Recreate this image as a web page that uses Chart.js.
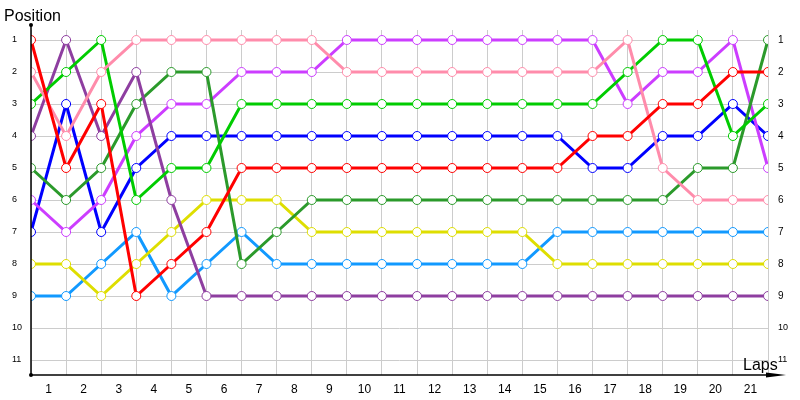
<!DOCTYPE html>
<html><head><meta charset="utf-8">
<script src="https://cdn.jsdelivr.net/npm/chart.js@4/dist/chart.umd.min.js"></script>
<style>html,body{margin:0;padding:0;background:#fff}canvas{display:block}</style>
</head><body>
<canvas id="c" width="800" height="400"></canvas>
<script>
// ---- data ----
const laps = [0,1,2,3,4,5,6,7,8,9,10,11,12,13,14,15,16,17,18,19,20,21];
const lapLabels = ['1','2','3','4','5','6','7','8','9','10','11','12','13','14','15','16','17','18','19','20','21'];
const positionTicks = [1,2,3,4,5,6,7,8,9,10,11];

const redDriver      = [1,5,3,9,8,7,5,5,5,5,5,5,5,5,5,5,4,4,3,3,2,2];
const pinkDriver     = [2,4,2,1,1,1,1,1,1,2,2,2,2,2,2,2,2,1,5,6,6,6];
const greenDriver    = [3,2,1,6,5,5,3,3,3,3,3,3,3,3,3,3,3,2,1,1,4,3];
const purpleDriver   = [4,1,4,2,6,9,9,9,9,9,9,9,9,9,9,9,9,9,9,9,9,9];
const darkGreenDriver= [5,6,5,3,2,2,8,7,6,6,6,6,6,6,6,6,6,6,6,5,5,1];
const magentaDriver  = [6,7,6,4,3,3,2,2,2,1,1,1,1,1,1,1,1,3,2,2,1,5];
const blueDriver     = [7,3,7,5,4,4,4,4,4,4,4,4,4,4,4,4,5,5,4,4,3,4];
const yellowDriver   = [8,8,9,8,7,6,6,6,7,7,7,7,7,7,7,8,8,8,8,8,8,8];
const skyDriver      = [9,9,8,7,9,8,7,8,8,8,8,8,8,8,8,7,7,7,7,7,7,7];

const seriesList = [
  ['Red', redDriver, '#ff0000'],
  ['Pink', pinkDriver, '#ff8cab'],
  ['Green', greenDriver, '#00cc00'],
  ['Purple', purpleDriver, '#8e3ea0'],
  ['Dark green', darkGreenDriver, '#2b9a2b'],
  ['Magenta', magentaDriver, '#cc3dff'],
  ['Blue', blueDriver, '#0000ff'],
  ['Yellow', yellowDriver, '#dede00'],
  ['Sky', skyDriver, '#1199ff']
];

const datasets = seriesList.map(([name, vals, col]) => ({
  label: name,
  data: vals.map((v, i) => ({x: laps[i], y: v})),
  borderColor: col,
  backgroundColor: col,
  borderWidth: 3,
  pointRadius: 4.5,
  pointBorderWidth: 1,
  pointBackgroundColor: '#ffffff',
  pointBorderColor: col,
  tension: 0,
  fill: false,
  xAxisID: 'x',
  yAxisID: 'y'
}));

const decor = {
  id: 'decor',
  afterDraw(chart) {
    const ctx = chart.ctx;
    const xs = chart.scales.x, ys = chart.scales.y;
    const x0 = xs.getPixelForValue(0);
    const yb = ys.bottom;
    ctx.save();
    ctx.strokeStyle = '#000';
    ctx.fillStyle = '#000';
    // y axis
    ctx.lineWidth = 1.5;
    ctx.beginPath();
    ctx.moveTo(x0, 25); ctx.lineTo(x0, yb);
    ctx.stroke();
    // x axis
    ctx.beginPath();
    ctx.moveTo(x0, yb); ctx.lineTo(772, yb);
    ctx.stroke();
    // arrow head
    ctx.beginPath();
    ctx.moveTo(786, yb); ctx.lineTo(766, yb - 2.5); ctx.lineTo(766, yb + 2.5); ctx.closePath();
    ctx.fill();
    // dots
    ctx.beginPath(); ctx.arc(x0, 25, 2, 0, Math.PI*2); ctx.fill();
    ctx.beginPath(); ctx.arc(x0, yb, 2, 0, Math.PI*2); ctx.fill();
    // axis titles
    ctx.font = '16px "Liberation Sans", Arial, sans-serif';
    ctx.textBaseline = 'alphabetic';
    ctx.textAlign = 'left';
    ctx.fillText('Position', 4, 21);
    ctx.fillText('Laps', 743, 370);
    ctx.restore();
  }
};

new Chart(document.getElementById('c'), {
  type: 'line',
  data: { datasets },
  options: {
    responsive: false,
    animation: false,
    events: [],
    layout: { padding: { left: 12, top: 30, right: 0, bottom: 0 } },
    plugins: { legend: { display: false }, tooltip: { enabled: false } },
    scales: {
      x: {
        type: 'linear', position: 'bottom', min: 0, max: 21,
        afterBuildTicks(s) { s.ticks = lapLabels.map((l, i) => ({ value: i + 0.5 })); },
        afterFit(s) { s.height = 25; },
        ticks: {
          autoSkip: false, maxRotation: 0, padding: 7,
          color: '#000',
          font: { family: '"Liberation Sans", Arial, sans-serif', size: 12 },
          callback: (v, i) => lapLabels[i]
        },
        grid: { offset: true, color: '#cccccc', lineWidth: 1, drawTicks: false },
        border: { display: false }
      },
      y: {
        type: 'linear', position: 'left', reverse: true, min: 0.6875, max: 11.46875,
        afterBuildTicks(s) { s.ticks = positionTicks.map(v => ({ value: v })); },
        afterFit(s) { s.width = 19; },
        ticks: {
          autoSkip: false, crossAlign: 'far', padding: 0,
          color: '#000',
          font: { family: '"Liberation Sans", Arial, sans-serif', size: 9 },
          callback: v => String(v)
        },
        grid: { color: '#cccccc', lineWidth: 1, drawTicks: false },
        border: { display: false }
      },
      y2: {
        type: 'linear', position: 'right', reverse: true, min: 0.6875, max: 11.46875,
        afterBuildTicks(s) { s.ticks = positionTicks.map(v => ({ value: v })); },
        afterFit(s) { s.width = 32; },
        ticks: {
          autoSkip: false, padding: 10,
          color: '#000',
          font: ctx => ({ family: '"Liberation Sans", Arial, sans-serif', size: (ctx.tick && ctx.tick.value >= 10) ? 9 : 10 }),
          callback: v => String(v)
        },
        grid: { display: false, drawTicks: false },
        border: { display: false }
      }
    }
  },
  plugins: [decor]
});
</script>
</body></html>
